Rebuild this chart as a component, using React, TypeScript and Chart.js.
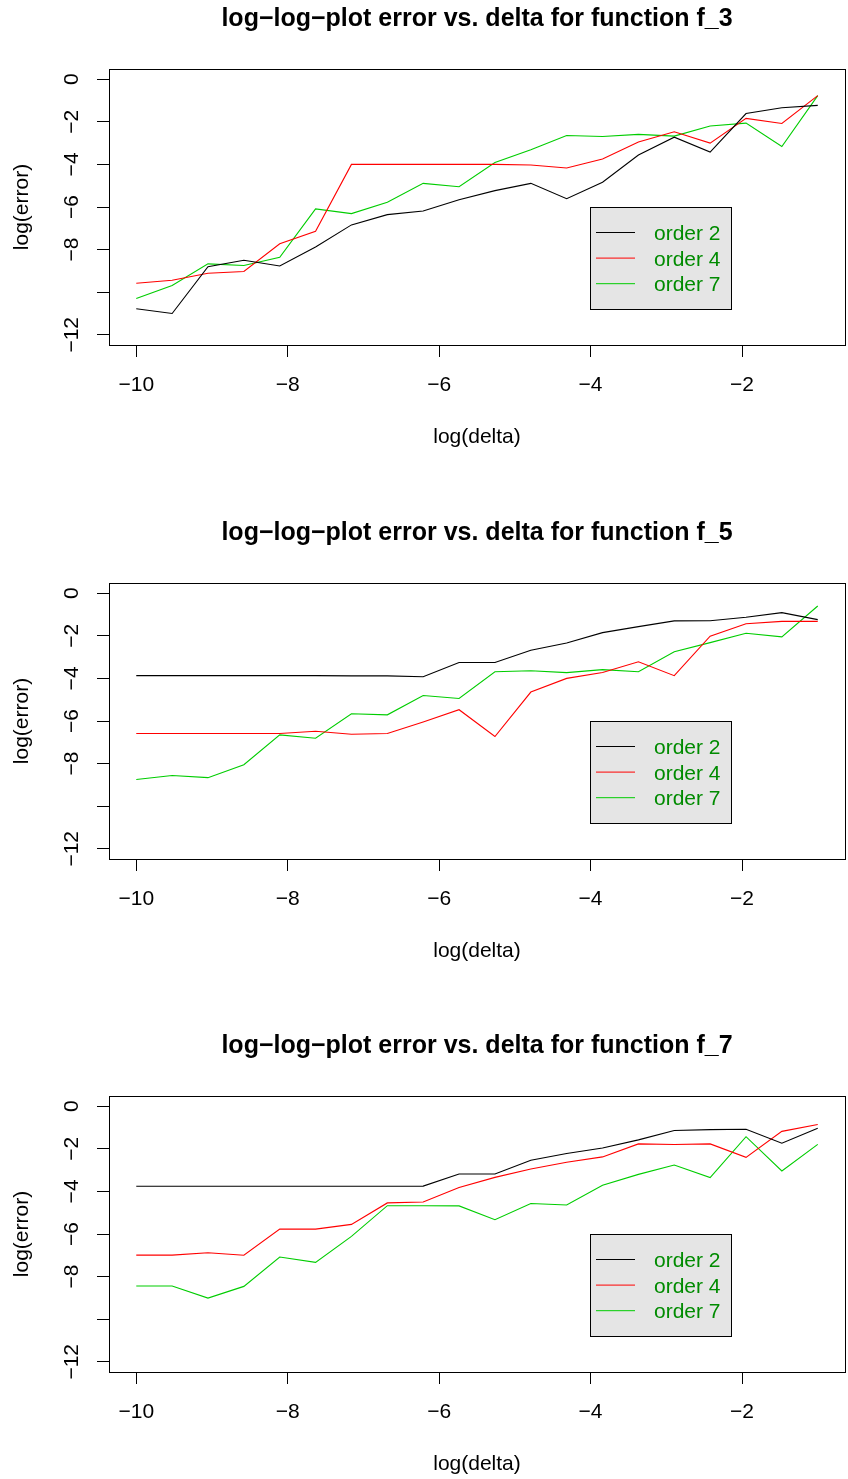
import React, { useEffect, useRef } from "react";
import { Chart, registerables } from "chart.js";

Chart.register(...registerables);

// ---------- data ----------
const logDelta = [
  -10, -9.526, -9.053, -8.579, -8.105, -7.632, -7.158, -6.684, -6.211, -5.737,
  -5.263, -4.789, -4.316, -3.842, -3.368, -2.895, -2.421, -1.947, -1.474, -1,
];

const xTickValues = [-10, -8, -6, -4, -2];
const xTickLabels = ["\u221210", "\u22128", "\u22126", "\u22124", "\u22122"];
const yTickValues = [0, -2, -4, -6, -8, -10, -12];
const yTickLabels = ["0", "\u22122", "\u22124", "\u22126", "\u22128", "", "\u221212"];

const seriesLabels = ["order 2", "order 4", "order 7"];
const seriesColors = ["#000000", "#ff0000", "#00cd00"];

const panelTitles = [
  "log\u2212log\u2212plot error vs. delta for function f_3",
  "log\u2212log\u2212plot error vs. delta for function f_5",
  "log\u2212log\u2212plot error vs. delta for function f_7",
];

const f3Order2 = [-10.78, -11.0, -8.8, -8.5, -8.77, -7.88, -6.84, -6.36, -6.19, -5.66, -5.23, -4.89, -5.61, -4.84, -3.56, -2.72, -3.42, -1.61, -1.34, -1.23];
const f3Order4 = [-9.58, -9.44, -9.11, -9.03, -7.73, -7.14, -4.0, -4.0, -4.0, -4.0, -4.0, -4.03, -4.17, -3.75, -2.95, -2.47, -3.0, -1.84, -2.08, -0.77];
const f3Order7 = [-10.3, -9.69, -8.67, -8.75, -8.36, -6.09, -6.31, -5.78, -4.89, -5.05, -3.91, -3.31, -2.64, -2.69, -2.59, -2.67, -2.2, -2.06, -3.16, -0.77];

const f5Order2 = [-3.87, -3.87, -3.87, -3.87, -3.87, -3.87, -3.88, -3.88, -3.92, -3.25, -3.25, -2.68, -2.34, -1.85, -1.57, -1.3, -1.29, -1.13, -0.91, -1.24];
const f5Order4 = [-6.59, -6.59, -6.59, -6.59, -6.59, -6.48, -6.62, -6.59, -6.05, -5.47, -6.73, -4.64, -4.0, -3.72, -3.22, -3.87, -2.02, -1.43, -1.32, -1.32];
const f5Order7 = [-8.75, -8.56, -8.66, -8.05, -6.65, -6.81, -5.66, -5.71, -4.8, -4.94, -3.69, -3.64, -3.73, -3.59, -3.69, -2.75, -2.32, -1.88, -2.05, -0.6];

const f7Order2 = [-3.76, -3.76, -3.76, -3.76, -3.76, -3.76, -3.76, -3.76, -3.75, -3.18, -3.18, -2.54, -2.22, -1.96, -1.58, -1.14, -1.1, -1.08, -1.74, -1.03];
const f7Order4 = [-6.99, -6.99, -6.88, -7.0, -5.77, -5.77, -5.55, -4.54, -4.5, -3.82, -3.34, -2.95, -2.63, -2.38, -1.77, -1.8, -1.77, -2.4, -1.18, -0.86];
const f7Order7 = [-8.44, -8.44, -9.01, -8.46, -7.08, -7.33, -6.11, -4.67, -4.67, -4.68, -5.33, -4.57, -4.64, -3.71, -3.2, -2.76, -3.35, -1.43, -3.04, -1.79];

const panelSeries = [
  [f3Order2, f3Order4, f3Order7],
  [f5Order2, f5Order4, f5Order7],
  [f7Order2, f7Order4, f7Order7],
];

// ---------- layout / style ----------
const FAMILY = "'Liberation Sans', Arial, Helvetica, sans-serif";
const CANVAS_W = 848;
const CANVAS_H = 513;
const panelTops = [0, 514, 1027];
const legendTextColor = "#008b00";

const boxLegendPlugin = {
  id: "rBoxLegend",
  afterDraw(chart: any) {
    const { ctx, chartArea } = chart;
    const { left, top, right, bottom } = chartArea;
    ctx.save();
    // plot box
    ctx.strokeStyle = "#000";
    ctx.lineWidth = 1;
    ctx.strokeRect(Math.round(left) + 0.5, Math.round(top) + 0.5, Math.round(right) - Math.round(left), Math.round(bottom) - Math.round(top));
    // legend
    const lx = Math.round(left) + 481;
    const ly = Math.round(top) + 138;
    const lw = 141;
    const lh = 102;
    ctx.fillStyle = "#e5e5e5";
    ctx.fillRect(lx, ly, lw, lh);
    ctx.strokeStyle = "#000";
    ctx.strokeRect(lx + 0.5, ly + 0.5, lw, lh);
    ctx.font = `21px ${FAMILY}`;
    ctx.textBaseline = "middle";
    ctx.textAlign = "left";
    chart.data.datasets.forEach((ds: any, i: number) => {
      const yy = ly + 25.5 + i * 25.6;
      ctx.strokeStyle = ds.borderColor;
      ctx.lineWidth = 1;
      ctx.beginPath();
      ctx.moveTo(lx + 6, yy);
      ctx.lineTo(lx + 45, yy);
      ctx.stroke();
      ctx.fillStyle = legendTextColor;
      ctx.fillText(ds.label, lx + 64, yy + 2);
    });
    ctx.restore();
  },
};

function makeConfig(title: string, series: number[][]): any {
  return {
    type: "line",
    data: {
      datasets: series.map((s, i) => ({
        label: seriesLabels[i],
        data: logDelta.map((x, j) => ({ x, y: s[j] })),
        borderColor: seriesColors[i],
        backgroundColor: seriesColors[i],
        borderWidth: 1.1,
        pointRadius: 0,
        fill: false,
        tension: 0,
      })),
    },
    options: {
      responsive: false,
      animation: false,
      events: [],
      layout: { padding: { left: 0, right: 3, top: 0, bottom: 0 } },
      plugins: {
        legend: { display: false },
        tooltip: { enabled: false },
        title: {
          display: true,
          text: title,
          fullSize: false,
          color: "#000",
          font: { family: FAMILY, size: 25, weight: "bold" },
          padding: { top: 4, bottom: 35 },
        },
      },
      scales: {
        x: {
          type: "linear",
          min: -10.36,
          max: -0.64,
          afterBuildTicks: (scale: any) => {
            scale.ticks = xTickValues.map((v) => ({ value: v }));
          },
          afterFit: (scale: any) => {
            scale.height = CANVAS_H - 345;
          },
          grid: { display: true, drawOnChartArea: false, drawTicks: true, tickLength: 12, color: "#000", tickColor: "#000", lineWidth: 1 },
          border: { display: false },
          ticks: {
            color: "#000",
            font: { family: FAMILY, size: 21 },
            padding: 16,
            minRotation: 0,
            maxRotation: 0,
            autoSkip: false,
            callback: (_v: any, i: number) => xTickLabels[i],
          },
          title: { display: true, text: "log(delta)", color: "#000", font: { family: FAMILY, size: 21 }, padding: { top: 0, bottom: 63 } },
        },
        y: {
          type: "linear",
          min: -12.48,
          max: 0.48,
          afterBuildTicks: (scale: any) => {
            scale.ticks = yTickValues.map((v) => ({ value: v }));
          },
          afterFit: (scale: any) => {
            scale.width = 109;
          },
          grid: { display: true, drawOnChartArea: false, drawTicks: true, tickLength: 12, color: "#000", tickColor: "#000", lineWidth: 1 },
          border: { display: false },
          ticks: {
            color: "#000",
            font: { family: FAMILY, size: 21 },
            padding: 7,
            minRotation: 90,
            maxRotation: 90,
            crossAlign: "center",
            autoSkip: false,
            callback: (_v: any, i: number) => yTickLabels[i],
          },
          title: { display: true, text: "log(error)", color: "#000", font: { family: FAMILY, size: 21 }, padding: { top: 10, bottom: 0 } },
        },
      },
    },
    plugins: [boxLegendPlugin],
  };
}

function Panel({ title, series, top }: { title: string; series: number[][]; top: number }) {
  const ref = useRef<HTMLCanvasElement | null>(null);
  useEffect(() => {
    if (!ref.current) return;
    const chart = new Chart(ref.current, makeConfig(title, series));
    return () => chart.destroy();
  }, [title, series]);
  return (
    <canvas
      ref={ref}
      width={CANVAS_W}
      height={CANVAS_H}
      style={{ position: "absolute", left: 0, top, width: CANVAS_W, height: CANVAS_H, display: "block" }}
    />
  );
}

export default function App() {
  useEffect(() => {
    document.body.style.margin = "0";
  }, []);
  return (
    <div style={{ position: "absolute", left: 0, top: 0, width: 848, height: 1479, overflow: "hidden", background: "#fff" }}>
      {panelTitles.map((t, i) => (
        <Panel key={i} title={t} series={panelSeries[i]} top={panelTops[i]} />
      ))}
    </div>
  );
}
